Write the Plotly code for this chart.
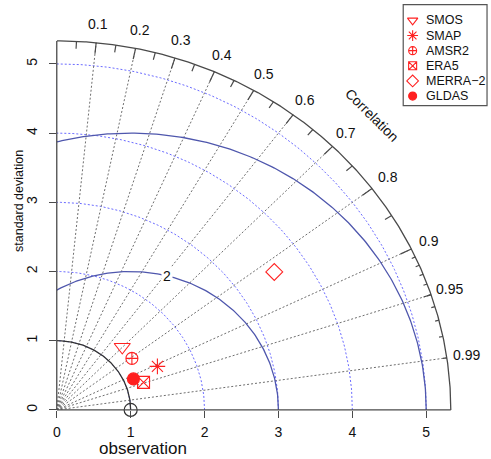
import numpy as np
import plotly.graph_objects as go

# ---------------- data ----------------
models = ["SMOS", "SMAP", "AMSR2", "ERA5", "MERRA−2", "GLDAS"]
sd_vals = [1.27, 1.50, 1.26, 1.24, 3.555, 1.13]
corr_vals = [0.698, 0.908, 0.807, 0.947, 0.828, 0.918]
symbols = ["triangle-down-open", "asterisk-open", "circle-cross-open",
           "square-x-open", "diamond-open", "circle"]
msizes = [14, 13, 12, 12, 13, 12]
leg_sizes = [9, 9, 8, 8, 9, 8]

ref_sd = 1.0
ref_label = "observation"
gamma_levels = [2, 4]
sd_grid = [1, 2, 3, 4, 5]
corr_lines = [0.1, 0.2, 0.3, 0.4, 0.5, 0.6, 0.7, 0.8, 0.9, 0.95, 0.99]
corr_labels = ["0.1", "0.2", "0.3", "0.4", "0.5", "0.6", "0.7", "0.8", "0.9", "0.95", "0.99"]
sd_ticks = [0, 1, 2, 3, 4, 5]

maxsd = 1.5 * max(sd_vals + [ref_sd])

# ---------------- layout geometry ----------------
W, H = 491, 459
px_l, px_b = 53.2, 411.7
ux, uy = 74.5, 69.5
xr, yr = 5.8, 5.8
xdom = [px_l / W, (px_l + xr * ux) / W]
ydom = [1 - px_b / H, 1 - (px_b - yr * uy) / H]

FONT = "Liberation Sans, Arial, Helvetica, sans-serif"
AXC = "#4a4a4a"
RED = "#ff2020"

fig = go.Figure()

def arc(r, a0, a1, cx=0.0, n=200):
    t = np.linspace(a0, a1, n)
    return cx + r * np.cos(t), r * np.sin(t)

# sd grid arcs (dotted blue)
for s in sd_grid:
    x, y = arc(s, 0, np.pi / 2)
    fig.add_trace(go.Scatter(x=x, y=y, mode="lines", hoverinfo="skip", showlegend=False,
                             line=dict(color="#6a6aff", width=1, dash="2px,2px")))

# correlation radial lines (dotted grey)
cx, cy = [], []
for c in corr_lines:
    th = np.arccos(c)
    cx += [0, maxsd * np.cos(th), None]
    cy += [0, maxsd * np.sin(th), None]
fig.add_trace(go.Scatter(x=cx, y=cy, mode="lines", hoverinfo="skip", showlegend=False,
                         line=dict(color="#6e6e6e", width=1, dash="2px,2px")))

# gamma (centred RMS) arcs
labelpos = np.linspace(45, 70, len(gamma_levels))
for g, lp in zip(gamma_levels, labelpos):
    th_end = np.arccos(max(-1.0, -ref_sd / g))
    x, y = arc(g, 0, th_end, cx=ref_sd)
    keep = x * x + y * y <= maxsd * maxsd
    fig.add_trace(go.Scatter(x=x[keep], y=y[keep], mode="lines", hoverinfo="skip", showlegend=False,
                             line=dict(color="#4f57ad", width=1.3)))
    th_lab = (lp - 1) * 0.03
    gx = ref_sd + g * np.cos(th_lab)
    gy = g * np.sin(th_lab)
    if gx > 0:
        fig.add_annotation(x=gx, y=gy, xref="x", yref="y", text=str(g), showarrow=False,
                           bgcolor="white", borderpad=1,
                           font=dict(family=FONT, size=14, color="#111"))

# reference sd arc
x, y = arc(ref_sd, 0, np.pi / 2)
fig.add_trace(go.Scatter(x=x, y=y, mode="lines", hoverinfo="skip", showlegend=False,
                         line=dict(color="#333", width=1.3)))

# outer arc
x, y = arc(maxsd, 0, np.pi / 2, n=400)
fig.add_trace(go.Scatter(x=x, y=y, mode="lines", hoverinfo="skip", showlegend=False,
                         line=dict(color=AXC, width=1.3)))

# ticks on outer arc
tx, ty = [], []
for vals, f in [(np.arange(0.1, 0.91, 0.1), 0.97),
                (np.arange(0.05, 0.96, 0.1), 0.98),
                (np.arange(0.91, 0.995, 0.01), 0.99)]:
    for v in vals:
        th = np.arccos(v)
        tx += [maxsd * np.cos(th), f * maxsd * np.cos(th), None]
        ty += [maxsd * np.sin(th), f * maxsd * np.sin(th), None]
fig.add_trace(go.Scatter(x=tx, y=ty, mode="lines", hoverinfo="skip", showlegend=False,
                         line=dict(color=AXC, width=1.2)))

# correlation labels
for c, lab in zip(corr_lines, corr_labels):
    th = np.arccos(c)
    fig.add_annotation(x=1.05 * maxsd * np.cos(th), y=1.05 * maxsd * np.sin(th),
                       xref="x", yref="y", text=lab, showarrow=False,
                       xanchor="center", yanchor="middle",
                       font=dict(family=FONT, size=14, color="#111"))
fig.add_annotation(x=0.8 * maxsd, y=0.8 * maxsd, xref="x", yref="y", text="Correlation",
                   showarrow=False, textangle=45, xanchor="center", yanchor="middle",
                   font=dict(family=FONT, size=14, color="#111"))

# observation point
fig.add_trace(go.Scatter(x=[ref_sd], y=[0], mode="markers", hoverinfo="skip", showlegend=False,
                         cliponaxis=False,
                         marker=dict(symbol="circle-open", size=13, color="#333",
                                     line=dict(width=1.2, color="#333"))))

# model points
for m, s, c, sym, ms in zip(models, sd_vals, corr_vals, symbols, msizes):
    th = np.arccos(c)
    fig.add_trace(go.Scatter(x=[s * np.cos(th)], y=[s * np.sin(th)], mode="markers", name=m,
                             showlegend=False, cliponaxis=False,
                             marker=dict(symbol=sym, size=ms, color=RED,
                                         line=dict(width=1.1, color=RED))))

# legend (manual, on its own small axes)
leg_idx = list(range(len(models)))
for i, m, sym, ls in zip(leg_idx, models, symbols, leg_sizes):
    fig.add_trace(go.Scatter(x=[0], y=[i], mode="markers", xaxis="x2", yaxis="y2",
                             showlegend=False, hoverinfo="skip", cliponaxis=False,
                             marker=dict(symbol=sym, size=ls, color=RED,
                                         line=dict(width=1.1, color=RED))))
    fig.add_annotation(x=423 / W, y=i, xref="paper", yref="y2", text=m, showarrow=False,
                       xanchor="left", yanchor="middle",
                       font=dict(family=FONT, size=12.5, color="#111"))
fig.add_shape(type="rect", xref="paper", yref="paper",
              x0=402.5 / W, x1=487 / W, y0=1 - 106 / H, y1=1 - 4.7 / H,
              line=dict(color="#555", width=1.2), fillcolor="rgba(0,0,0,0)", layer="above")

# axis lines (limited to 0..maxsd)
fig.add_shape(type="line", xref="x", yref="paper", x0=0, x1=maxsd, y0=ydom[0], y1=ydom[0],
              line=dict(color=AXC, width=1.3))
fig.add_shape(type="line", xref="paper", yref="y", x0=xdom[0], x1=xdom[0], y0=0, y1=maxsd,
              line=dict(color=AXC, width=1.3))

# axis titles
fig.add_annotation(x=ref_sd + 0.165, y=1 - 450 / H, xref="x", yref="paper", text=ref_label,
                   showarrow=False, xanchor="center", yanchor="middle",
                   font=dict(family=FONT, size=17, color="#111"))
fig.add_annotation(x=15 / W, y=1 - 202 / H, xref="paper", yref="paper", text="standard deviation",
                   showarrow=False, textangle=-90, xanchor="center", yanchor="middle",
                   font=dict(family=FONT, size=12.5, color="#111"))

fig.update_layout(
    width=W, height=H, margin=dict(l=0, r=0, t=0, b=0),
    paper_bgcolor="white", plot_bgcolor="rgba(0,0,0,0)",
    showlegend=False,
    xaxis=dict(domain=xdom, range=[0, xr], showgrid=False, zeroline=False, showline=False,
               tickvals=sd_ticks, ticks="outside", ticklen=7, tickcolor=AXC, tickwidth=1.2,
               ticklabelstandoff=2,
               tickfont=dict(family=FONT, size=14, color="#111"), fixedrange=True),
    yaxis=dict(domain=ydom, range=[0, yr], showgrid=False, zeroline=False, showline=False,
               tickvals=sd_ticks, ticks="outside", ticklen=7, tickcolor=AXC, tickwidth=1.2,
               tickangle=-90, ticklabelstandoff=6,
               tickfont=dict(family=FONT, size=14, color="#111"), fixedrange=True),
    xaxis2=dict(domain=[405 / W, 419 / W], range=[-1, 1], visible=False, anchor="y2",
                fixedrange=True),
    yaxis2=dict(domain=[1 - 104.1 / H, 1 - 12.9 / H], range=[5.5, -0.5], visible=False,
                anchor="x2", fixedrange=True),
)

fig.write_html("out.html")
